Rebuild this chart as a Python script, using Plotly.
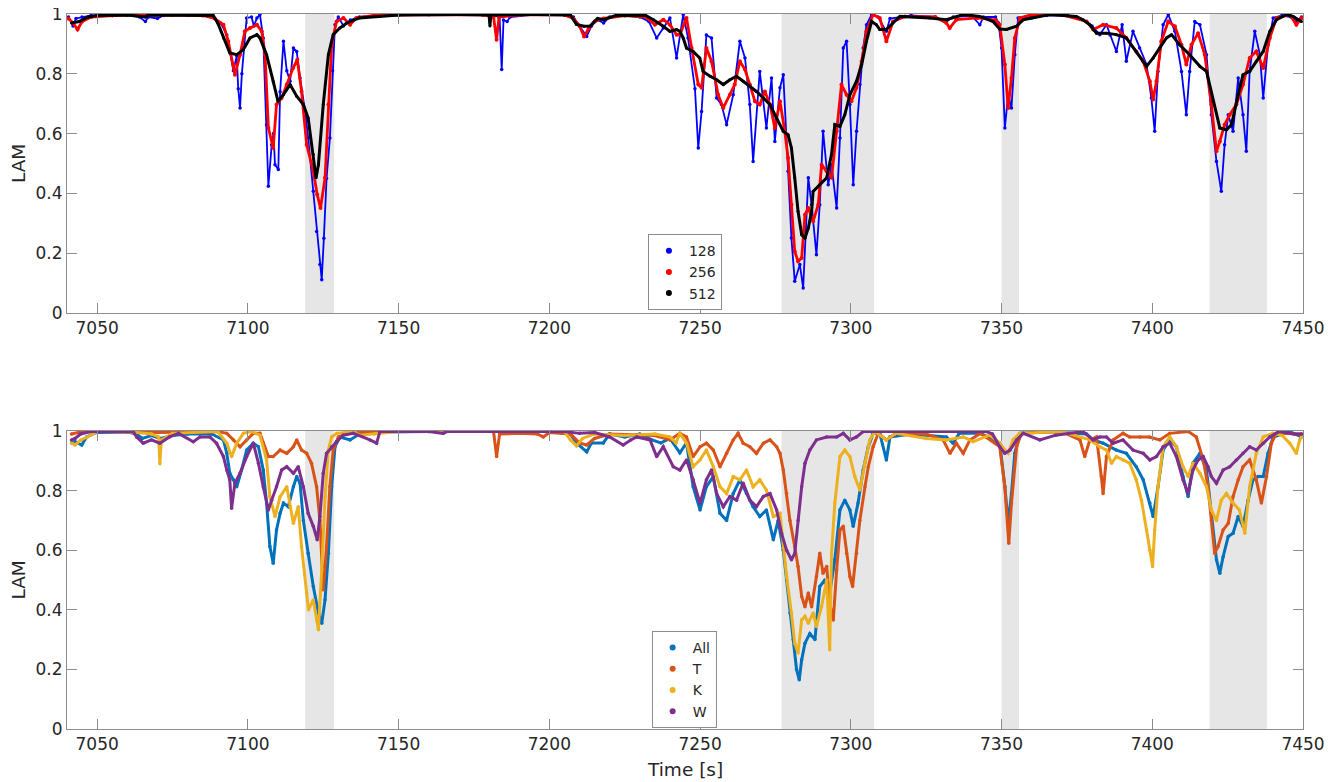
import plotly.graph_objects as go

# ---------------- data: top panel (window sizes) ----------------
t128 = [7040.5,7042,7043,7045,7048,7055,7060,7064,7066,7067,7070,7072,7080,7085,7088,7091,7093,7095.2,7096.3,7096.8,7097.4,7098,7099.6,7101.2,7102,7103,7104,7105.1,7106.2,7106.8,7107.9,7108.5,7109,7110.1,7110.7,7111.8,7112.9,7114,7115.1,7116.2,7117.3,7119,7120,7121.7,7122.8,7123.9,7124.5,7125.2,7126.1,7127.2,7128.1,7128.9,7130,7131.7,7134,7137,7142,7150,7160,7170,7180,7183.5,7184.2,7184.8,7186,7187,7195,7205,7208,7210,7212.4,7214,7216,7218,7220,7225,7230,7233,7235.6,7237.8,7240,7242.2,7243.3,7244.4,7246,7248.3,7249.4,7250.5,7252.1,7253.8,7255.5,7257.1,7258.8,7261,7263.2,7264.9,7266.5,7267.6,7269.8,7272,7273.7,7274.8,7276.5,7277.6,7279.2,7280.3,7281.4,7283.1,7284.2,7285.9,7287,7288.6,7289.7,7290.8,7292.5,7293.6,7295.3,7296.4,7297.5,7298.6,7299.7,7300.8,7301.9,7303,7304.1,7305.2,7306.9,7309,7311.8,7313,7320,7328,7331.7,7334,7340,7342.8,7344,7348,7349,7350,7351.1,7352.2,7353.3,7354.4,7355.5,7358,7365,7372,7378.2,7380,7382.6,7384.8,7386,7388.1,7390,7391.4,7393.6,7395.8,7398.1,7399.7,7400.8,7401.9,7403.6,7405.3,7407.5,7409.7,7411.3,7412.4,7414.1,7415.8,7418,7419.6,7421.3,7422.9,7424,7425.2,7426.8,7428.5,7430.1,7431.2,7432.3,7434,7435.7,7436.8,7438.4,7440.1,7443,7446,7448,7449.5]
v128 = [0.99,0.96,0.985,0.99,0.995,0.995,0.997,0.99,0.975,0.99,0.985,0.995,0.997,0.995,0.99,0.97,0.93,0.81,0.86,0.75,0.686,0.80,0.987,0.99,0.96,0.987,0.998,0.92,0.63,0.424,0.563,0.60,0.496,0.48,0.74,0.909,0.81,0.775,0.886,0.875,0.786,0.674,0.585,0.407,0.273,0.162,0.111,0.25,0.45,0.585,0.81,0.964,0.99,0.96,0.98,0.99,0.995,0.997,0.998,0.998,0.997,0.99,0.814,0.98,0.975,0.99,0.998,0.997,0.99,0.96,0.925,0.96,0.98,0.97,0.99,0.995,0.99,0.975,0.92,0.953,0.987,0.853,0.93,0.998,0.92,0.75,0.552,0.674,0.93,0.92,0.719,0.697,0.63,0.73,0.909,0.853,0.697,0.507,0.808,0.619,0.786,0.574,0.753,0.797,0.474,0.251,0.106,0.162,0.084,0.452,0.362,0.195,0.362,0.608,0.429,0.496,0.351,0.585,0.886,0.909,0.697,0.429,0.608,0.764,0.886,0.964,0.998,0.99,0.942,0.985,0.995,0.99,0.975,0.99,0.995,0.964,0.99,0.99,0.97,0.886,0.619,0.73,0.686,0.864,0.987,0.99,0.995,0.995,0.975,0.96,0.931,0.964,0.93,0.875,0.964,0.842,0.942,0.886,0.831,0.719,0.608,0.808,0.964,0.998,0.942,0.808,0.663,0.808,0.975,0.964,0.864,0.663,0.507,0.407,0.563,0.663,0.608,0.786,0.663,0.541,0.808,0.942,0.864,0.719,0.897,0.987,0.995,0.99,0.975,0.99]

t256 = [7040.5,7042,7043.5,7045,7048,7055,7065,7075,7085,7089,7091.9,7093.5,7095.2,7095.7,7097.4,7099,7100.7,7103,7104.6,7105.7,7106.8,7108.4,7109.5,7111.2,7112.9,7115,7116.4,7117.8,7119.5,7121.7,7123,7124.1,7125.6,7126.7,7127.8,7129.4,7131.7,7133.9,7136,7142,7160,7178,7181.5,7182.5,7183.3,7190,7205,7208,7210,7211.5,7213,7215,7218,7225,7232,7235,7237.8,7240,7242.2,7243.3,7245.5,7247.2,7249.4,7250.5,7252.1,7253.8,7256,7257.7,7259.9,7261.5,7263.2,7264.9,7266.5,7268.2,7269.8,7271.5,7273.2,7274.8,7276.5,7278.1,7279.2,7280.3,7281.4,7282.5,7283.7,7284.8,7285.9,7287.5,7289.2,7290.3,7292,7293.6,7295.3,7296.9,7298.6,7300.2,7301.9,7303.6,7305.2,7307.4,7309.6,7311.8,7314,7318,7328,7331.7,7332.8,7335,7342,7348,7349.4,7351.1,7352.2,7353.3,7354.4,7356.1,7360,7370,7378.2,7380.4,7383.7,7388.1,7391.4,7394.7,7397,7399.2,7400.3,7401.4,7403,7405.3,7407.5,7409.7,7411.3,7413,7415.2,7417.4,7419.6,7421.3,7422.4,7424,7425.7,7427.9,7430.1,7432.3,7434.5,7436.8,7439,7441.2,7445.6,7447.8,7449.5]
v256 = [0.985,0.97,0.948,0.975,0.99,0.995,0.997,0.997,0.995,0.985,0.964,0.909,0.831,0.797,0.864,0.942,0.953,0.964,0.942,0.864,0.619,0.552,0.697,0.719,0.764,0.819,0.847,0.741,0.563,0.474,0.396,0.351,0.452,0.697,0.897,0.975,0.987,0.964,0.987,0.995,0.998,0.997,0.99,0.914,0.99,0.997,0.997,0.985,0.96,0.925,0.95,0.975,0.985,0.995,0.99,0.964,0.981,0.964,0.931,0.931,0.987,0.886,0.764,0.753,0.886,0.842,0.730,0.686,0.730,0.764,0.842,0.814,0.764,0.708,0.697,0.741,0.697,0.619,0.708,0.608,0.518,0.362,0.206,0.173,0.184,0.329,0.351,0.307,0.362,0.496,0.474,0.452,0.608,0.764,0.730,0.708,0.753,0.842,0.942,0.998,0.987,0.909,0.975,0.992,0.99,0.970,0.953,0.981,0.987,0.98,0.964,0.831,0.686,0.786,0.920,0.987,0.998,0.998,0.975,0.948,0.964,0.953,0.920,0.875,0.842,0.775,0.714,0.775,0.909,0.975,0.959,0.897,0.831,0.897,0.936,0.864,0.697,0.541,0.574,0.630,0.663,0.697,0.764,0.853,0.875,0.819,0.920,0.987,0.998,0.964,0.987]

t512 = [7041.5,7044,7047,7050,7060,7066,7067,7080,7088.5,7090,7091.9,7094,7096.3,7098.5,7100.7,7103,7104,7106.2,7108.4,7110,7111.8,7114,7116.2,7118.4,7120,7121.7,7122.6,7123.4,7125,7126.7,7128.3,7130.5,7132.8,7137,7143.8,7150,7170,7180,7180.3,7180.6,7195,7207,7209,7211.5,7213.5,7216,7218,7222,7232,7234.5,7237.8,7240,7242.2,7243.3,7244.4,7245.5,7247.7,7249.9,7251,7253.3,7255.5,7257.7,7259.9,7262.1,7264.3,7266.5,7268.7,7271,7273.2,7275.4,7277.6,7279.2,7280.3,7281.4,7282.5,7283.7,7284.8,7285.9,7287,7287.5,7289.7,7292,7293.6,7294.7,7296.4,7298,7299.7,7301.9,7303.6,7305.2,7306.9,7308.5,7309.6,7311.8,7314,7316.3,7326.2,7331.7,7337.3,7342.8,7347.2,7349.4,7351.6,7355,7357.2,7360,7366,7374.8,7377,7379.3,7381.5,7384.8,7388.1,7391.4,7394.7,7398.1,7400.3,7402.5,7404.7,7406.4,7409.1,7412.4,7415.8,7418,7420.2,7422.4,7424.6,7426.3,7428.5,7430.1,7432.3,7434.5,7436.8,7439,7441.2,7444.5,7446.7,7449.5]
v512 = [0.97,0.975,0.99,0.995,0.997,0.99,0.997,0.997,0.995,0.97,0.92,0.87,0.864,0.881,0.92,0.931,0.92,0.864,0.775,0.708,0.730,0.764,0.725,0.697,0.652,0.530,0.452,0.496,0.697,0.864,0.931,0.953,0.970,0.987,0.992,0.997,0.998,0.997,0.96,0.997,0.998,0.997,0.965,0.959,0.96,0.985,0.981,0.995,0.995,0.981,0.959,0.942,0.948,0.942,0.920,0.886,0.875,0.853,0.808,0.792,0.780,0.764,0.780,0.792,0.775,0.758,0.741,0.719,0.697,0.652,0.608,0.596,0.552,0.452,0.340,0.262,0.251,0.284,0.340,0.407,0.429,0.452,0.530,0.630,0.624,0.663,0.730,0.775,0.831,0.909,0.975,0.964,0.948,0.948,0.970,0.992,0.987,0.981,0.998,0.992,0.975,0.950,0.948,0.959,0.981,0.987,0.998,0.992,0.981,0.964,0.936,0.936,0.931,0.920,0.875,0.825,0.853,0.886,0.920,0.931,0.897,0.864,0.825,0.808,0.708,0.619,0.613,0.630,0.730,0.797,0.808,0.842,0.875,0.942,0.981,0.998,0.992,0.975]

# ---------------- data: bottom panel (subsets) ----------------
t_all = [7041.5,7042.7,7044.9,7046.5,7049.8,7060,7063,7065,7068,7071,7075,7080,7088,7091.9,7093,7094,7095.2,7096.3,7097.9,7099.6,7101.8,7103.5,7105.1,7106.2,7107.3,7108.4,7109.5,7110.7,7111.8,7113.4,7115.1,7116.2,7117.3,7118.4,7120,7121.7,7123.4,7124.5,7125.6,7126.7,7127.8,7128.9,7130.5,7133.9,7137,7145,7160,7180,7200,7207,7209,7212.4,7214,7217.9,7220,7225,7230,7234,7237,7240,7243.3,7245.5,7247.7,7250,7252.1,7254.4,7256.6,7258.8,7261,7263.2,7265.4,7267.6,7269.8,7272,7274.3,7275.9,7277.6,7278.7,7279.8,7280.9,7282,7282.9,7283.7,7284.8,7286.4,7288.1,7289.7,7291.4,7293,7294.7,7296.4,7298,7299.7,7300.8,7302.4,7304.1,7305.8,7307.4,7309.6,7311.8,7313,7320,7331.7,7333.9,7336,7343,7349.4,7351.1,7352.2,7353.3,7354.4,7356.1,7365,7378.2,7380.4,7383.7,7388.1,7391.4,7394.7,7397,7399.2,7400.3,7401.9,7403.6,7405.8,7408,7410.2,7411.9,7413.5,7415.8,7418,7419.6,7421.3,7422.4,7423.5,7425.2,7426.8,7428.5,7430.1,7431.8,7433.4,7435.1,7436.8,7438.4,7440.1,7445.6,7449.5]
v_all = [0.96,0.964,0.953,0.98,0.995,0.997,0.99,0.975,0.985,0.975,0.985,0.99,0.99,0.97,0.925,0.858,0.836,0.813,0.869,0.936,0.959,0.947,0.869,0.758,0.612,0.556,0.668,0.724,0.758,0.746,0.813,0.847,0.825,0.70,0.59,0.478,0.389,0.355,0.434,0.59,0.813,0.947,0.98,0.97,0.99,0.997,0.998,0.998,0.998,0.99,0.96,0.93,0.96,0.96,0.99,0.98,0.99,0.97,0.96,0.975,0.927,0.96,0.813,0.735,0.813,0.847,0.724,0.70,0.79,0.836,0.79,0.746,0.713,0.735,0.635,0.70,0.60,0.50,0.389,0.30,0.20,0.165,0.232,0.288,0.32,0.30,0.478,0.50,0.456,0.568,0.735,0.768,0.735,0.68,0.758,0.869,0.947,0.992,0.992,0.903,0.98,0.99,0.98,0.959,0.992,0.992,0.96,0.813,0.69,0.79,0.925,0.992,0.998,0.99,0.97,0.959,0.936,0.925,0.88,0.836,0.758,0.713,0.813,0.936,0.97,0.947,0.847,0.78,0.892,0.925,0.869,0.724,0.568,0.523,0.578,0.646,0.657,0.713,0.68,0.768,0.836,0.847,0.847,0.925,0.98,0.998,0.98]

t_T = [7041.5,7045,7050,7070,7090,7093,7095.2,7097.4,7099.6,7101.8,7104,7105.1,7106.8,7108.4,7110.7,7112.9,7115.1,7116.2,7117.8,7119.5,7121.1,7122.8,7123.9,7125,7126.1,7127.2,7128.3,7130,7133,7140,7160,7181.5,7182.5,7183.5,7190,7196,7198,7200,7207,7210,7212.4,7215,7220,7235,7240,7243.3,7245.5,7247.7,7250,7252.1,7254.4,7256.6,7258.8,7261,7262.6,7264.3,7266.5,7268.7,7271,7273.2,7275.4,7276.5,7277.6,7278.7,7279.8,7281.4,7282.5,7283.7,7284.8,7285.9,7287,7288.6,7289.7,7290.8,7292,7293,7294.2,7295.3,7296.4,7297.5,7298.6,7299.7,7300.6,7301.9,7303,7304.7,7305.8,7307.4,7309.1,7311.8,7315,7325,7330.6,7332.9,7335,7337.3,7339.5,7343,7349.4,7351.1,7352.4,7353.3,7355,7356.6,7370,7376,7377.6,7379.3,7381.5,7383.1,7383.7,7384.8,7387,7390.3,7392.5,7395.9,7399,7402.5,7405.8,7412,7414.6,7416.9,7418.5,7419.6,7420.7,7421.8,7423.5,7425.2,7426.8,7428.5,7430.1,7432.3,7434.5,7436.2,7437.9,7439.5,7441.2,7449.5]
v_T = [0.99,0.998,0.998,0.995,0.998,0.992,0.97,0.947,0.97,0.992,0.992,0.96,0.914,0.914,0.936,0.925,0.947,0.97,0.936,0.925,0.892,0.813,0.70,0.467,0.612,0.813,0.936,0.98,0.992,0.998,0.998,0.998,0.914,0.99,0.992,0.99,0.98,0.995,0.99,0.96,0.953,0.975,0.99,0.985,0.97,0.992,0.98,0.914,0.947,0.959,0.936,0.88,0.925,0.97,0.992,0.959,0.947,0.925,0.959,0.97,0.947,0.925,0.869,0.791,0.70,0.612,0.545,0.445,0.41,0.456,0.41,0.512,0.59,0.523,0.545,0.422,0.366,0.534,0.668,0.68,0.59,0.512,0.478,0.59,0.70,0.813,0.88,0.947,0.992,0.97,0.992,0.99,0.97,0.925,0.959,0.925,0.97,0.992,0.947,0.813,0.623,0.757,0.947,0.992,0.998,0.97,0.914,0.97,0.98,0.847,0.79,0.914,0.97,0.992,0.98,0.98,0.98,0.97,0.992,0.998,0.98,0.903,0.813,0.70,0.59,0.612,0.668,0.69,0.78,0.836,0.88,0.903,0.836,0.758,0.847,0.959,0.992,0.99]

t_K = [7041.5,7042.7,7044.6,7046.8,7050,7060,7068,7070.4,7070.8,7071.3,7075,7090,7093,7094.6,7096.3,7098.5,7101.2,7104,7106.2,7107.3,7109,7110.7,7112.9,7114,7115.1,7116.7,7117.8,7119.5,7120.1,7121.7,7122.8,7123.4,7124.5,7125.6,7126.7,7127.8,7129.5,7135,7137,7142,7150,7205,7207,7209,7211,7215,7225,7235,7240,7242,7243.3,7245.5,7247.7,7250,7252.1,7254.4,7256.6,7258.8,7261,7263.2,7265.4,7267.6,7269.8,7272,7274.3,7276.5,7278.7,7280.3,7281.4,7282.5,7283.7,7284.8,7285.9,7287.5,7288.6,7290.3,7292,7293,7293.6,7294.7,7296.4,7298,7299.7,7301.3,7303,7304.7,7306.3,7308,7311.8,7315,7325,7331.7,7337.3,7340.6,7346,7349.4,7351.1,7352.2,7353.8,7356,7370,7379.3,7382.6,7384.8,7386.5,7388.1,7390.3,7392.5,7394.7,7396.4,7398.1,7399.2,7400.1,7400.8,7401.9,7403.6,7405.8,7408,7410.2,7411.9,7413.5,7415.8,7418,7419.6,7421.3,7422.9,7424.6,7426.8,7428.9,7430.7,7432.3,7434.5,7436.8,7440,7443,7445.6,7447.8,7448.9,7449.5]
v_K = [0.96,0.953,0.97,0.98,0.998,0.998,0.99,0.98,0.89,0.97,0.992,0.998,0.959,0.914,0.959,0.992,0.998,0.986,0.903,0.78,0.713,0.78,0.813,0.746,0.69,0.746,0.612,0.456,0.40,0.433,0.366,0.333,0.534,0.78,0.936,0.98,0.992,0.998,0.986,0.99,0.998,0.998,0.97,0.95,0.975,0.99,0.985,0.99,0.98,0.96,0.992,0.959,0.88,0.903,0.936,0.88,0.813,0.79,0.847,0.836,0.869,0.813,0.836,0.802,0.713,0.724,0.512,0.389,0.288,0.255,0.366,0.378,0.355,0.389,0.344,0.411,0.50,0.266,0.589,0.758,0.914,0.936,0.914,0.847,0.802,0.892,0.97,0.998,0.97,0.992,0.975,0.97,0.98,0.964,0.986,0.96,0.936,0.925,0.97,0.992,0.998,0.97,0.947,0.936,0.892,0.914,0.903,0.892,0.836,0.768,0.668,0.60,0.545,0.668,0.813,0.947,0.98,0.947,0.88,0.847,0.892,0.858,0.813,0.735,0.70,0.768,0.79,0.758,0.735,0.657,0.813,0.925,0.98,0.992,0.986,0.959,0.925,0.97,0.98]

t_W = [7041.5,7042.7,7044.5,7048,7062,7063.1,7065.3,7068,7070.8,7074,7077,7081.9,7084.1,7087.4,7089.6,7091.9,7093,7094,7094.6,7095.7,7097.4,7099.6,7101.8,7103.5,7105.1,7106.8,7107.9,7109.5,7111.2,7112.9,7115.1,7116.7,7118.4,7120,7121.7,7123,7123.9,7125,7126.1,7127.8,7129.4,7131.6,7135,7140.5,7142.7,7143.8,7160,7164.8,7166,7205,7210,7215,7220,7224.5,7227,7229,7233.4,7235.6,7237.8,7241.1,7243.3,7245.5,7247.7,7250,7252.1,7253.8,7255.5,7257.7,7259.9,7262.1,7264.3,7266.5,7268.7,7271,7273.2,7275.4,7277,7278.7,7280.3,7281.4,7282.5,7283.7,7284.8,7286.4,7288.6,7292,7295.3,7297.5,7299.7,7301.9,7304.1,7320,7345,7347,7349.4,7351.1,7352.8,7355,7357.2,7362.7,7368,7377,7380.4,7382.6,7384.8,7387,7390.3,7393.6,7397,7399.2,7401.4,7403.6,7405.8,7408,7410.2,7411.9,7413.5,7415.2,7416.9,7418.5,7419.6,7421.3,7423.5,7425.7,7427.9,7430.1,7432.3,7434.5,7436.8,7439,7442,7447,7449.5]
v_W = [0.97,0.975,0.99,0.998,0.998,0.98,0.959,0.97,0.959,0.98,0.992,0.964,0.98,0.98,0.959,0.914,0.869,0.836,0.741,0.825,0.858,0.914,0.959,0.892,0.813,0.735,0.768,0.813,0.869,0.88,0.858,0.88,0.813,0.724,0.68,0.635,0.713,0.858,0.925,0.947,0.964,0.986,0.992,0.97,0.959,0.998,0.998,0.992,0.998,0.998,0.992,0.995,0.98,0.953,0.97,0.98,0.97,0.914,0.947,0.88,0.869,0.903,0.836,0.758,0.836,0.869,0.79,0.746,0.78,0.768,0.825,0.768,0.746,0.78,0.79,0.735,0.657,0.60,0.568,0.589,0.70,0.813,0.892,0.936,0.97,0.98,0.98,0.992,0.97,0.98,0.998,0.998,0.998,0.99,0.947,0.925,0.936,0.97,0.992,0.97,0.986,0.998,0.97,0.98,0.98,0.959,0.97,0.936,0.925,0.903,0.914,0.947,0.959,0.914,0.836,0.79,0.869,0.903,0.914,0.88,0.847,0.825,0.869,0.88,0.903,0.925,0.947,0.936,0.959,0.98,0.998,0.99,0.99]

# shaded intervals (start, end) in seconds
shade_start = [7119, 7277, 7350, 7419]
shade_end = [7128.6, 7307.7, 7355.8, 7438]

x_ticks = [7050, 7100, 7150, 7200, 7250, 7300, 7350, 7400, 7450]
y_ticks = [0, 0.2, 0.4, 0.6, 0.8, 1]
y_tick_labels = ["0", "0.2", "0.4", "0.6", "0.8", "1"]

top_names = ["128", "256", "512"]
top_colors = ["#0000FF", "#FF0000", "#000000"]
bot_names = ["All", "T", "K", "W"]
bot_colors = ["#0072BD", "#D95319", "#EDB120", "#7E2F8E"]

FONT = "DejaVu Sans"
fig = go.Figure()

top_series = [(t128, v128), (t256, v256), (t512, v512)]
top_width = [1.8, 2.8, 3.0]
top_msize = [3.5, 4, 3]
for (tx, vy), name, col, w, ms in zip(top_series, top_names, top_colors, top_width, top_msize):
    fig.add_trace(go.Scatter(x=tx, y=vy, mode="lines+markers", line=dict(color=col, width=w),
                             marker=dict(color=col, size=ms), showlegend=False,
                             xaxis="x", yaxis="y", hoverinfo="skip"))
for name, col in zip(top_names, top_colors):
    fig.add_trace(go.Scatter(x=[None], y=[None], mode="markers", name=name,
                             marker=dict(color=col, size=6), legend="legend",
                             xaxis="x", yaxis="y"))

bot_series = [(t_all, v_all), (t_T, v_T), (t_K, v_K), (t_W, v_W)]
for (tx, vy), name, col in zip(bot_series, bot_names, bot_colors):
    fig.add_trace(go.Scatter(x=tx, y=vy, mode="lines+markers", line=dict(color=col, width=3),
                             marker=dict(color=col, size=3.5),
                             showlegend=False, xaxis="x2", yaxis="y2", hoverinfo="skip"))
for name, col in zip(bot_names, bot_colors):
    fig.add_trace(go.Scatter(x=[None], y=[None], mode="markers", name=name,
                             marker=dict(color=col, size=6), legend="legend2",
                             xaxis="x2", yaxis="y2"))

shapes = []
for s, e in zip(shade_start, shade_end):
    for xr, yr in (("x", "y"), ("x2", "y2")):
        shapes.append(dict(type="rect", xref=xr, yref=yr, x0=s, x1=e, y0=0, y1=1,
                           fillcolor="#E6E6E6", line=dict(width=0), layer="below"))

axis_common = dict(showline=True, linecolor="#8c8c8c", linewidth=1, mirror="ticks",
                   ticks="inside", ticklen=10, tickcolor="#8c8c8c", showgrid=False,
                   zeroline=False, automargin=False, ticklabeloverflow="allow",
                   tickfont=dict(family=FONT, size=17, color="#262626"))

xa = dict(axis_common, range=[7040, 7450], tickvals=x_ticks, ticktext=[str(v) for v in x_ticks])
ya = dict(axis_common, range=[0, 1], tickvals=y_ticks, ticktext=y_tick_labels)

legend_style = dict(bgcolor="white", bordercolor="#8c8c8c", borderwidth=1,
                    font=dict(family=FONT, size=14, color="#262626"),
                    itemwidth=30, tracegroupgap=0, xanchor="left", yanchor="middle")

title_font = dict(family=FONT, size=18.5, color="#262626")
annotations = [
    dict(text="LAM", xref="paper", yref="paper", x=-0.0392, y=0.7909, textangle=-90,
         showarrow=False, xanchor="center", yanchor="middle", font=title_font),
    dict(text="LAM", xref="paper", yref="paper", x=-0.0392, y=0.2084, textangle=-90,
         showarrow=False, xanchor="center", yanchor="middle", font=title_font),
    dict(text="Time [s]", xref="paper", yref="paper", x=0.5, y=-0.0573,
         showarrow=False, xanchor="center", yanchor="middle", font=title_font),
]

fig.update_layout(
    width=1341, height=782,
    margin=dict(l=59, r=46, t=6, b=61, autoexpand=False),
    plot_bgcolor="white", paper_bgcolor="white",
    font=dict(family=FONT, size=17, color="#262626"),
    xaxis=dict(xa, domain=[0, 1], anchor="y"),
    yaxis=dict(ya, domain=[0.5818, 1], anchor="x"),
    xaxis2=dict(xa, domain=[0, 1], anchor="y2"),
    yaxis2=dict(ya, domain=[0, 0.4168], anchor="x2"),
    legend=dict(legend_style, x=0.470, y=0.639),
    legend2=dict(legend_style, x=0.473, y=0.0692),
    shapes=shapes,
    annotations=annotations,
    showlegend=True,
)

fig.write_html("out.html")
